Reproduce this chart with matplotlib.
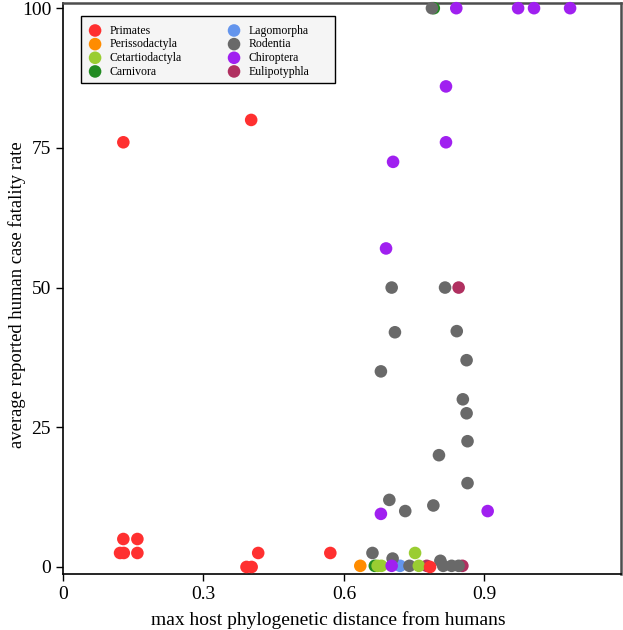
import matplotlib
matplotlib.use("Agg")
import matplotlib.pyplot as plt
from matplotlib.patches import Rectangle

plt.rcParams['font.family'] = ['Liberation Serif', 'DejaVu Serif']

# Data per host order: (x = max host phylogenetic distance, y = CFR)
primates_x = [0.129, 0.402, 0.129, 0.159, 0.122, 0.130, 0.159, 0.417, 0.571, 0.392, 0.403, 0.784]
primates_y = [76, 80, 5, 5, 2.5, 2.5, 2.5, 2.5, 2.5, 0, 0, 0]

perisso_x = [0.635]
perisso_y = [0.2]

cetart_x = [0.672, 0.680, 0.752, 0.760]
cetart_y = [0.2, 0.2, 2.5, 0.2]

carniv_x = [0.666, 0.792]
carniv_y = [0.2, 100]

lago_x = [0.720]
lago_y = [0.2]

rodent_x = [0.788, 0.702, 0.816, 0.709, 0.841, 0.862, 0.679, 0.854, 0.862, 0.864,
            0.803, 0.864, 0.697, 0.791, 0.731, 0.661, 0.704, 0.740, 0.806, 0.812,
            0.830, 0.845]
rodent_y = [100, 50, 50, 42, 42.2, 37, 35, 30, 27.5, 22.5,
            20, 15, 12, 11, 10, 2.5, 1.5, 0.2, 1.1, 0.2,
            0.2, 0.2]

chiro_x = [0.840, 0.972, 1.006, 1.083, 0.818, 0.818, 0.705, 0.690, 0.679, 0.907, 0.702]
chiro_y = [100, 100, 100, 100, 86, 76, 72.5, 57, 9.5, 10, 0.2]

euli_x = [0.845, 0.777, 0.853]
euli_y = [50, 0.2, 0.2]

groups = {
    'Primates': (primates_x, primates_y, '#FF3030'),
    'Perissodactyla': (perisso_x, perisso_y, '#FF8C00'),
    'Cetartiodactyla': (cetart_x, cetart_y, '#9ACD32'),
    'Carnivora': (carniv_x, carniv_y, '#228B22'),
    'Lagomorpha': (lago_x, lago_y, '#6495ED'),
    'Rodentia': (rodent_x, rodent_y, '#696969'),
    'Chiroptera': (chiro_x, chiro_y, '#A020F0'),
    'Eulipotyphla': (euli_x, euli_y, '#B03060'),
}
legend_order = ['Primates', 'Perissodactyla', 'Cetartiodactyla', 'Carnivora',
                'Lagomorpha', 'Rodentia', 'Chiroptera', 'Eulipotyphla']
draw_order = ['Eulipotyphla', 'Carnivora', 'Lagomorpha', 'Rodentia', 'Cetartiodactyla',
              'Chiroptera', 'Perissodactyla', 'Primates']

fig = plt.figure(figsize=(6.23, 6.30), dpi=100)
ax = fig.add_axes([0.101, 0.089, 0.896, 0.906])

handles = {}
for z, name in enumerate(draw_order):
    xs, ys, c = groups[name]
    handles[name] = ax.scatter(xs, ys, s=82, color=c, edgecolors='none',
                               zorder=3 + z, clip_on=False, label=name)

ax.set_xlim(0, 1.192)
ax.set_ylim(-1.25, 100.9)
ax.set_xticks([0, 0.3, 0.6, 0.9])
ax.set_xticklabels(['0', '0.3', '0.6', '0.9'])
ax.set_yticks([0, 25, 50, 75, 100])
ax.tick_params(direction='out', length=5, width=1, labelsize=14, colors='black')

for side in ['left', 'bottom']:
    ax.spines[side].set_color('black')
    ax.spines[side].set_linewidth(1.2)
for side in ['top', 'right']:
    ax.spines[side].set_color('#4d4d4d')
    ax.spines[side].set_linewidth(1.8)

ax.set_xlabel('max host phylogenetic distance from humans', fontsize=14)
ax.xaxis.set_label_coords(0.475, -0.066)
ax.set_ylabel('average reported human case fatality rate', fontsize=13.4)
ax.yaxis.set_label_coords(-0.066, 0.49)

# legend box (fixed size) + frameless legend inside
box = Rectangle((0.032, 0.860), 0.455, 0.117, transform=ax.transAxes,
                facecolor='#f5f5f5', edgecolor='black', linewidth=1.0, zorder=19)
ax.add_patch(box)
leg = ax.legend([handles[n] for n in legend_order], legend_order, ncol=2,
                loc='upper left', bbox_to_anchor=(0.028, 0.979), fontsize=8.5,
                frameon=False, handlelength=1.2, handletextpad=0.6,
                columnspacing=3.85, labelspacing=0.14, borderpad=0.3,
                scatterpoints=1)
leg.set_zorder(20)

fig.savefig('out.png', dpi=100)
